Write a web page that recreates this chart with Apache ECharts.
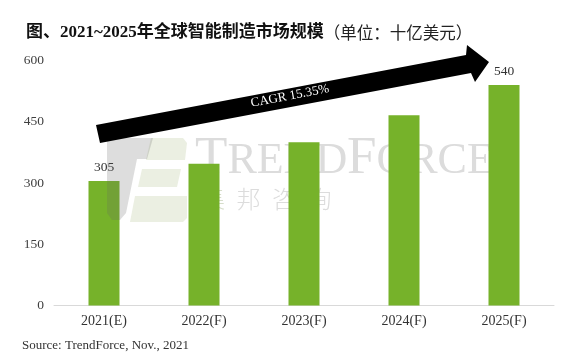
<!DOCTYPE html>
<html>
<head>
<meta charset="utf-8">
<script src="https://cdn.jsdelivr.net/npm/echarts@6/dist/echarts.min.js"></script>
<style>
html,body{margin:0;padding:0;background:#fff;}
#c{width:562px;height:362px;}
</style>
</head>
<body>
<div id="c"></div>
<script>
const categories = ['2021(E)', '2022(F)', '2023(F)', '2024(F)', '2025(F)'];
const marketSize = [305, 347, 400, 466, 540];
const labeledIndex = [0, 4];
const yTicks = [0, 150, 300, 450, 600];
const titleBold = '图、2021~2025年全球智能制造市场规模';
const titleUnit = '（单位：十亿美元）';
const cagrText = 'CAGR 15.35%';
const sourceText = 'Source: TrendForce, Nov., 2021';

const SERIF = "'Liberation Serif', 'Times New Roman', serif";
const CJK = "'Liberation Serif', 'Noto Sans CJK SC', sans-serif";
const chart = echarts.init(document.getElementById('c'), null, {renderer: 'canvas'});

const wmColor = '#dcdcdc';
const wm = [];
// TRENDFORCE watermark (small caps) drawn behind bars
[['T', 195, 53], ['REND', 227.4, 44], ['F', 347, 53], ['ORCE', 376.5, 44]].forEach(p => {
  wm.push({type: 'text', z: -10, x: p[1], y: 176.7 - 0.3375 * p[2],
    style: {text: p[0], font: p[2] + 'px ' + SERIF, fill: wmColor, verticalAlign: 'middle', align: 'left'}});
});
['集', '邦', '咨', '询'].forEach((ch, i) => {
  wm.push({type: 'text', z: -10, x: 201 + i * 35.5, y: 199,
    style: {text: ch, font: "300 24px 'Noto Sans CJK SC', sans-serif", fill: i === 0 ? '#d6ddca' : wmColor, verticalAlign: 'middle', align: 'left'}});
});
// logo pale green part
wm.push({type: 'polygon', z: -10, shape: {points: [[151,138],[183,138],[187,143],[185,160],[146,160]]}, style: {fill: '#ebefe2'}});
wm.push({type: 'polygon', z: -10, shape: {points: [[142,169],[181,169],[177,187],[138,187]]}, style: {fill: '#ebefe2'}});
wm.push({type: 'polygon', z: -10, shape: {points: [[135,196],[187,196],[187,218],[183,222],[130,222]]}, style: {fill: '#ebefe2'}});
// logo gray part (on top, translucent)
wm.push({type: 'polygon', z: 50, shape: {points: [[107,138],[153,138],[147,159],[137,159],[126,213],[120,220],[112,220],[107,213]]}, style: {fill: 'rgba(100,100,100,0.22)'}});

const option = {
  animation: false,
  backgroundColor: '#fff',
  title: {
    left: 21, top: 19,
    text: '{b|' + titleBold + '}{n|' + titleUnit + '}',
    textStyle: {
      rich: {
        b: {fontFamily: CJK, fontWeight: 'bold', fontSize: 17, color: '#111', lineHeight: 18},
        n: {fontFamily: "'Noto Sans CJK SC', sans-serif", fontWeight: 'normal', fontSize: 16.5, color: '#222', lineHeight: 18}
      }
    }
  },
  grid: {left: 54, right: 8, top: 60.5, bottom: 56.5},
  xAxis: {
    type: 'category',
    data: categories,
    axisLine: {show: true, lineStyle: {color: '#d9d9d9', width: 1}},
    axisTick: {show: false},
    axisLabel: {fontFamily: SERIF, fontSize: 14, color: '#333', margin: 9}
  },
  yAxis: {
    type: 'value',
    min: yTicks[0], max: yTicks[yTicks.length - 1], interval: yTicks[1] - yTicks[0],
    axisLine: {show: false},
    axisTick: {show: false},
    splitLine: {show: false},
    axisLabel: {fontFamily: SERIF, fontSize: 13.5, color: '#404040', margin: 10}
  },
  series: [{
    type: 'bar',
    barWidth: 31,
    itemStyle: {color: '#76b22a'},
    label: {position: 'top', distance: 7, fontFamily: SERIF, fontSize: 13.5, color: '#333'},
    data: marketSize.map((v, i) => ({value: v, label: {show: labeledIndex.includes(i)}}))
  }],
  graphic: wm.concat([
    {type: 'polygon', z: 60, shape: {points: [[96,125],[466,55],[467,45],[489,62],[475,82],[471,73],[100,143]]}, style: {fill: '#000'}},
    {type: 'text', z: 61, x: 290, y: 96, rotation: 0.188,
      style: {text: cagrText, font: '13px ' + SERIF, fill: '#fff', align: 'center', verticalAlign: 'middle'}},
    {type: 'text', z: 61, x: 22, y: 346,
      style: {text: sourceText, font: '13px ' + SERIF, fill: '#333', align: 'left', verticalAlign: 'middle'}}
  ])
};
chart.setOption(option);
</script>
</body>
</html>
